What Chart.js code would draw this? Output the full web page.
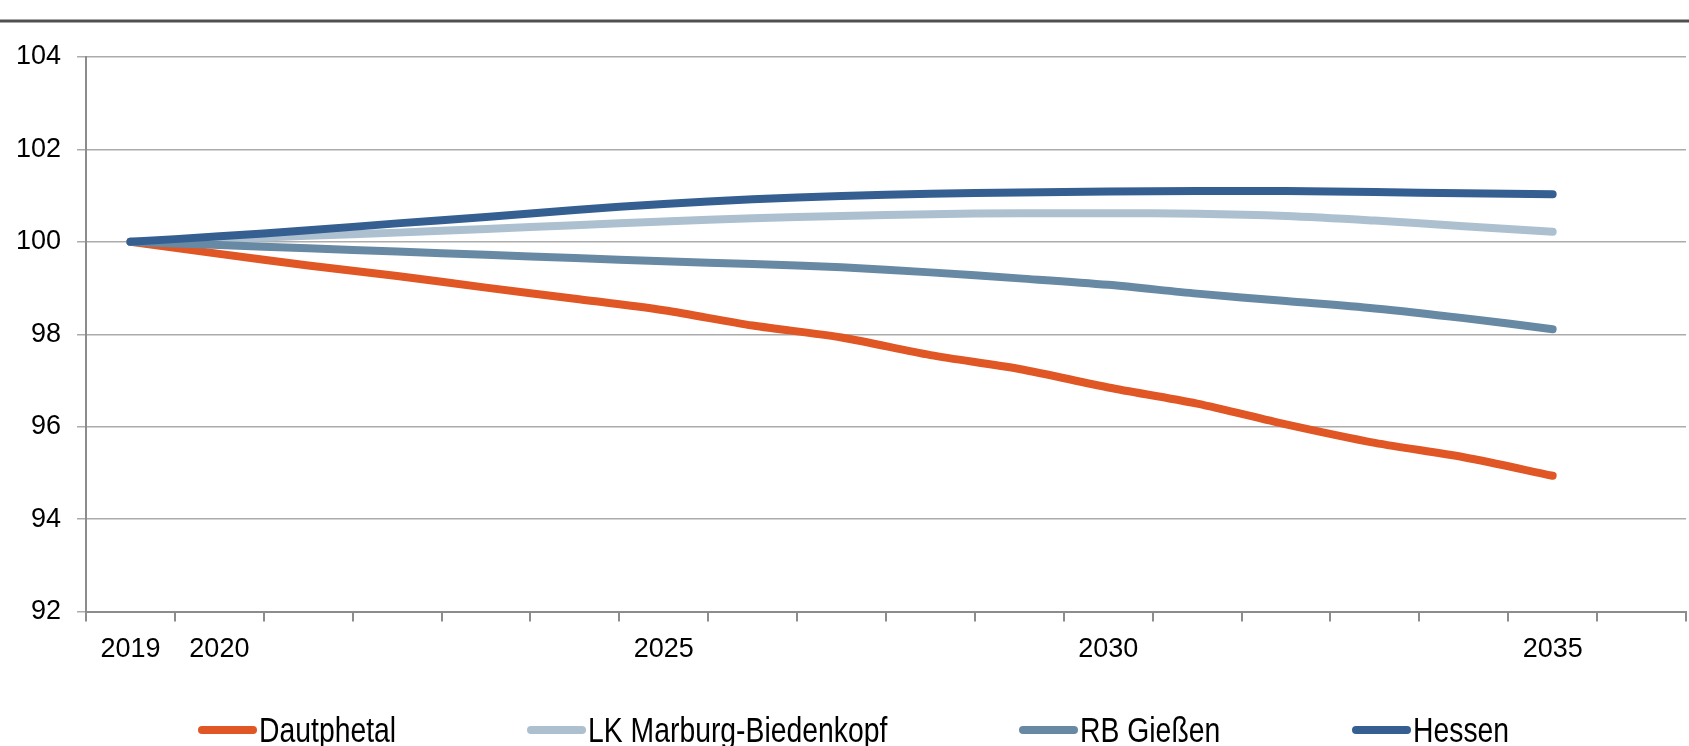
<!DOCTYPE html>
<html>
<head>
<meta charset="utf-8">
<script src="https://cdn.jsdelivr.net/npm/chart.js@4.4.1/dist/chart.umd.min.js"></script>
<style>
  html, body { margin: 0; padding: 0; background: #fff; }
  #wrap { width: 1689px; height: 746px; position: relative; }
</style>
</head>
<body>
<div id="wrap"><canvas id="popChart"></canvas></div>
<script>
// years on the axis (last slot stays empty like in the original)
const years = ['2019', '2020', '2021', '2022', '2023', '2024', '2025', '2026', '2027',
  '2028', '2029', '2030', '2031', '2032', '2033', '2034', '2035', '2036'];
const tickLabels = ['2019', '2020', '', '', '', '', '2025', '', '', '', '', '2030',
  '', '', '', '', '2035', ''];

// index 2019 = 100
const dautphetal = [100, 99.74, 99.49, 99.26, 99.01, 98.77, 98.52, 98.19, 97.93,
  97.55, 97.25, 96.85, 96.50, 96.05, 95.65, 95.34, 94.94, null];
const marburgBiedenkopf = [100, 100.06, 100.13, 100.20, 100.28, 100.36, 100.44, 100.51, 100.56,
  100.60, 100.62, 100.62, 100.61, 100.56, 100.46, 100.34, 100.22, null];
const rbGiessen = [100, 99.93, 99.86, 99.79, 99.72, 99.65, 99.58, 99.52, 99.45,
  99.34, 99.21, 99.07, 98.88, 98.72, 98.56, 98.35, 98.11, null];
const hessen = [100, 100.12, 100.25, 100.40, 100.54, 100.69, 100.82, 100.92, 100.99,
  101.04, 101.07, 101.09, 101.10, 101.10, 101.08, 101.05, 101.03, null];

const yTicks = [92, 94, 96, 98, 100, 102, 104];

const FONT = "'Liberation Sans', Arial, sans-serif";

function series(label, data, color, order) {
  return {
    label: label,
    data: data,
    borderColor: color,
    backgroundColor: color,
    borderWidth: 8,
    borderCapStyle: 'round',
    borderJoinStyle: 'round',
    pointRadius: 0,
    tension: 0.3,
    fill: false,
    order: order
  };
}

// rule under the (cut off) heading
const headRule = {
  id: 'headRule',
  beforeDraw(chart) {
    const c = chart.ctx;
    c.save();
    c.strokeStyle = '#505050';
    c.lineWidth = 3;
    c.beginPath();
    c.moveTo(0, 21);
    c.lineTo(chart.width, 21);
    c.stroke();
    c.restore();
  }
};

// Excel-like legend: fixed columns, line sample touching a narrow label
const legendCols = [198, 527, 1019, 1352];
const lineLegend = {
  id: 'lineLegend',
  afterDraw(chart) {
    const c = chart.ctx;
    const sx = 0.81;              // narrow type
    const sample = 59, gapText = 2, yLine = 730, yText = 742;
    c.save();
    c.font = '35px ' + FONT;
    c.textBaseline = 'alphabetic';
    c.textAlign = 'left';
    chart.data.datasets.forEach((ds, i) => {
      const x = legendCols[i];
      c.strokeStyle = ds.borderColor;
      c.lineWidth = 8;
      c.lineCap = 'round';
      c.beginPath();
      c.moveTo(x + 4, yLine);
      c.lineTo(x + sample - 4, yLine);
      c.stroke();
      c.save();
      c.translate(x + sample + gapText, yText);
      c.scale(sx, 1);
      c.fillStyle = '#000';
      c.fillText(ds.label, 0, 0);
      c.restore();
    });
    c.restore();
  }
};

const ctx = document.getElementById('popChart').getContext('2d');
const chart = new Chart(ctx, {
  type: 'line',
  data: {
    labels: years,
    datasets: [
      series('Dautphetal', dautphetal, '#e05624', 3),
      series('LK Marburg-Biedenkopf', marburgBiedenkopf, '#adc0cf', 2),
      series('RB Gießen', rbGiessen, '#6889a3', 1),
      series('Hessen', hessen, '#355f91', 0)
    ]
  },
  options: {
    responsive: true,
    maintainAspectRatio: false,
    animation: false,
    devicePixelRatio: 1,
    layout: { padding: { top: 57, left: 0, right: 3, bottom: 68 } },
    plugins: {
      legend: { display: false },
      tooltip: { enabled: false }
    },
    scales: {
      x: {
        offset: true,
        grid: {
          offset: true,
          drawOnChartArea: false,
          drawTicks: true,
          tickLength: 10,
          color: '#8c8c8c',
          lineWidth: 2
        },
        border: { display: true, color: '#8c8c8c', width: 2 },
        ticks: {
          autoSkip: false,
          maxRotation: 0,
          padding: 12,
          color: '#000',
          font: { family: FONT, size: 27 },
          callback: (v, i) => tickLabels[i]
        }
      },
      y: {
        min: yTicks[0],
        max: yTicks[yTicks.length - 1],
        afterBuildTicks: axis => { axis.ticks = yTicks.map(v => ({ value: v })); },
        grid: {
          color: '#ababab',
          lineWidth: 1.5,
          drawTicks: true,
          tickLength: 9
        },
        border: { display: true, color: '#8c8c8c', width: 2 },
        ticks: {
          padding: 16,
          color: '#000',
          font: { family: FONT, size: 27 }
        }
      }
    }
  },
  plugins: [headRule, lineLegend]
});
</script>
</body>
</html>
